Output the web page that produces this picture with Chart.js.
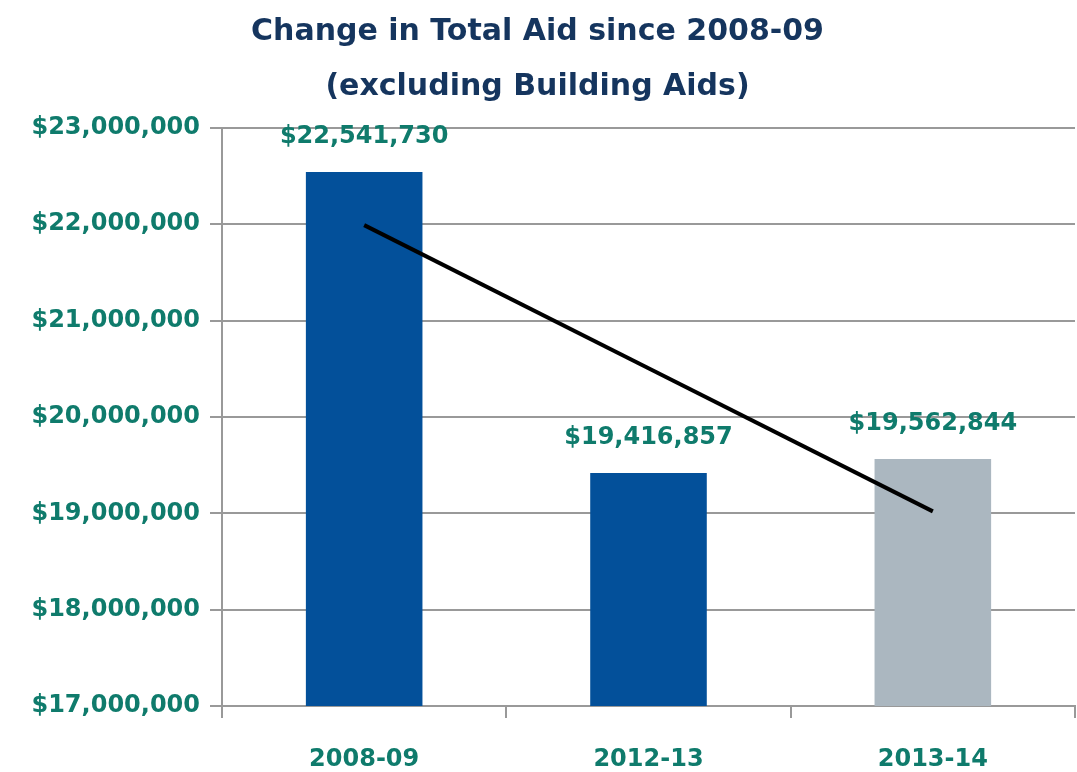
<!DOCTYPE html>
<html>
<head>
<meta charset="utf-8">
<script src="https://cdn.jsdelivr.net/npm/chart.js@4"></script>
<style>
  html, body { margin: 0; padding: 0; background: #fff; }
  #wrap { width: 1077px; height: 772px; }
</style>
</head>
<body>
<div id="wrap"><canvas id="chart"></canvas></div>
<script>
const years = ['2008-09', '2012-13', '2013-14'];
const totalAid = [22541730, 19416857, 19562844];
// trend line (start, middle, end)
const trendAid = [21990000, 20505000, 19020000];
const barColors = ['#03509A', '#03509A', '#ABB7C0'];
const titleLines = ['Change in Total Aid since 2008-09', '(excluding Building Aids)'];

const fontFamily = '"DejaVu Sans", sans-serif';
const teal = '#0F7B6C';

const money = v => '$' + Number(v).toLocaleString('en-US');

// draw value labels above bars
const barLabels = {
    id: 'barLabels',
    afterDatasetsDraw(chart) {
        const ctx = chart.ctx;
        const meta = chart.getDatasetMeta(1);
        ctx.save();
        ctx.font = 'bold 24px ' + fontFamily;
        ctx.fillStyle = teal;
        ctx.textAlign = 'center';
        ctx.textBaseline = 'middle';
        meta.data.forEach((bar, i) => {
            ctx.fillText(money(totalAid[i]), bar.x, bar.y - 35);
        });
        ctx.restore();
    }
};

const ctx = document.getElementById('chart').getContext('2d');

new Chart(ctx, {
    data: {
        labels: years,
        datasets: [{
            type: 'line',
            data: trendAid,
            borderColor: '#000',
            borderWidth: 4,
            pointRadius: 0,
            fill: false,
            order: 0
        }, {
            type: 'bar',
            data: totalAid,
            backgroundColor: barColors,
            barPercentage: 0.41,
            categoryPercentage: 1,
            order: 1
        }]
    },
    options: {
        responsive: true,
        maintainAspectRatio: false,
        animation: false,
        layout: { padding: { left: 0, right: 2, top: 5, bottom: 2 } },
        plugins: {
            legend: { display: false },
            tooltip: { enabled: false },
            title: {
                display: true,
                text: titleLines,
                color: '#15355E',
                font: { family: fontFamily, size: 30, weight: 'bold', lineHeight: 1.83 },
                padding: { top: 0, bottom: 13 }
            }
        },
        scales: {
            x: {
                offset: true,
                afterFit: s => { s.height = 64; },
                grid: {
                    offset: true,
                    drawOnChartArea: false,
                    color: '#999',
                    lineWidth: 2,
                    tickLength: 12
                },
                border: { color: '#999', width: 2 },
                ticks: {
                    color: teal,
                    padding: 27,
                    font: { family: fontFamily, size: 24, weight: 'bold' }
                }
            },
            y: {
                min: 17000000,
                max: 23000000,
                afterFit: s => { s.width = 222; },
                grid: { color: '#999', lineWidth: 2, tickLength: 12 },
                border: { color: '#999', width: 2 },
                ticks: {
                    stepSize: 1000000,
                    color: teal,
                    padding: 10,
                    font: { family: fontFamily, size: 24, weight: 'bold' },
                    callback: v => money(v)
                }
            }
        }
    },
    plugins: [barLabels]
});
</script>
</body>
</html>
